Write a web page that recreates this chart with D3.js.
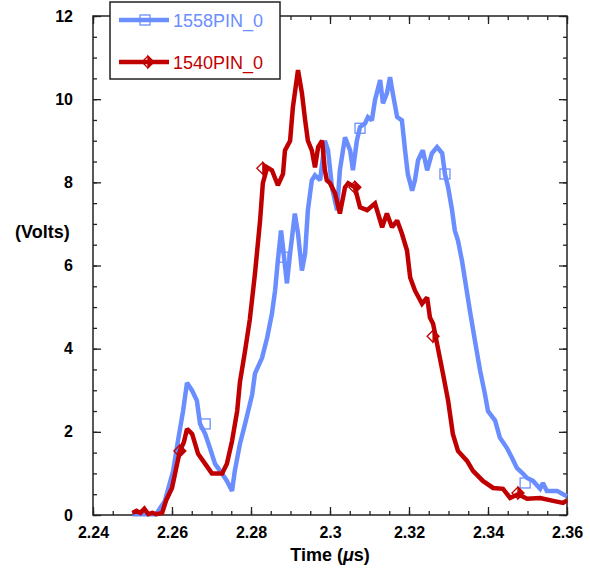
<!DOCTYPE html>
<html>
<head lang="en">
    <meta charset="UTF-8">
    <script type="text/javascript" src="https://d3js.org/d3.v7.min.js"></script>
    <style>
        body { margin: 0; background: #fff; }
        text { font-family: "Liberation Sans", Arial, Helvetica, sans-serif; }
        .tick text { font-size: 16px; font-weight: bold; fill: #000; }
    </style>
</head>
<body>
    <svg id="chart" width="590" height="573"></svg>
    <script>
        // 1558PIN_0 (blue)
        var blueTime = [2.2500, 2.2560, 2.2582, 2.2603, 2.2615, 2.2628, 2.2638, 2.2651, 2.2663, 2.2671,
            2.2684, 2.2696, 2.2709, 2.2727, 2.2739, 2.2752, 2.2759, 2.2772, 2.2785, 2.2803,
            2.2810, 2.2828, 2.2841, 2.2853, 2.2861, 2.2868, 2.2876, 2.2881, 2.2891, 2.2899,
            2.2911, 2.2919, 2.2929, 2.2937, 2.2944, 2.2954, 2.2962, 2.2975, 2.2987, 2.2995,
            2.3005, 2.3018, 2.3025, 2.3038, 2.3051, 2.3058, 2.3068, 2.3076, 2.3089, 2.3096,
            2.3106, 2.3114, 2.3127, 2.3134, 2.3144, 2.3152, 2.3159, 2.3170, 2.3182, 2.3190,
            2.3197, 2.3208, 2.3215, 2.3223, 2.3235, 2.3246, 2.3258, 2.3271, 2.3284, 2.3291,
            2.3299, 2.3309, 2.3316, 2.3324, 2.3334, 2.3342, 2.3354, 2.3367, 2.3380, 2.3392,
            2.3400, 2.3418, 2.3430, 2.3448, 2.3461, 2.3473, 2.3489, 2.3499, 2.3514, 2.3532,
            2.3539, 2.3549, 2.3575, 2.3590, 2.3600];
        var blueVolts = [0.02, 0.02, 0.34, 1.06, 1.78, 2.50, 3.18, 2.99, 2.75, 2.19,
            1.95, 1.61, 1.23, 0.99, 0.82, 0.58, 1.06, 1.71, 2.19, 2.90,
            3.40, 3.78, 4.27, 4.84, 5.40, 6.12, 6.84, 6.43, 5.57, 6.29,
            7.25, 6.77, 5.88, 6.29, 7.33, 8.05, 8.17, 8.05, 9.00, 8.77,
            7.88, 7.33, 8.29, 9.08, 8.77, 8.29, 9.00, 9.33, 9.42, 9.57,
            9.49, 9.98, 10.46, 9.90, 10.14, 10.53, 10.14, 9.57, 9.49, 8.77,
            8.20, 7.80, 8.05, 8.53, 8.77, 8.29, 8.70, 8.85, 8.70, 8.20,
            7.88, 7.33, 6.84, 6.60, 6.12, 5.64, 4.92, 4.19, 3.47, 2.92,
            2.50, 2.27, 1.86, 1.61, 1.37, 1.13, 0.99, 0.89, 0.82, 0.63,
            0.77, 0.58, 0.58, 0.50, 0.45];
        var blueMarkTime = [2.2684, 2.2881, 2.3076, 2.3291, 2.3494];
        var blueMarkVolts = [2.19, 6.20, 9.30, 8.20, 0.77];

        // 1540PIN_0 (red)
        var redTime = [2.2500, 2.2510, 2.2520, 2.2530, 2.2540, 2.2550, 2.2560, 2.2575, 2.2585, 2.2600,
            2.2613, 2.2620, 2.2630, 2.2638, 2.2651, 2.2666, 2.2684, 2.2701, 2.2727, 2.2739,
            2.2752, 2.2765, 2.2772, 2.2780, 2.2785, 2.2797, 2.2810, 2.2823, 2.2830, 2.2841,
            2.2853, 2.2868, 2.2881, 2.2886, 2.2899, 2.2906, 2.2919, 2.2929, 2.2937, 2.2944,
            2.2954, 2.2962, 2.2970, 2.2980, 2.2987, 2.2992, 2.3000, 2.3013, 2.3025, 2.3038,
            2.3046, 2.3063, 2.3076, 2.3094, 2.3114, 2.3132, 2.3144, 2.3157, 2.3170, 2.3182,
            2.3195, 2.3203, 2.3215, 2.3233, 2.3246, 2.3253, 2.3261, 2.3266, 2.3286, 2.3299,
            2.3311, 2.3324, 2.3347, 2.3362, 2.3387, 2.3413, 2.3438, 2.3456, 2.3476, 2.3499,
            2.3532, 2.3565, 2.3590, 2.3600];
        var redVolts = [0.05, 0.10, 0.05, 0.15, 0.02, 0.05, 0.02, 0.05, 0.35, 0.65,
            1.23, 1.54, 1.75, 2.07, 1.95, 1.47, 1.23, 1.00, 1.00, 1.23,
            1.78, 2.50, 3.20, 3.66, 3.95, 4.70, 5.80, 7.08, 7.98, 8.36,
            8.29, 7.93, 8.20, 8.77, 9.00, 9.80, 10.70, 10.14, 9.50, 9.00,
            8.77, 8.36, 8.85, 9.00, 8.29, 8.05, 7.98, 7.73, 7.25, 7.88,
            7.98, 7.88, 7.40, 7.33, 7.49, 6.92, 7.25, 6.92, 7.08, 6.77,
            6.36, 5.71, 5.40, 5.08, 5.23, 4.75, 4.60, 4.36, 3.40, 2.75,
            1.95, 1.54, 1.30, 1.06, 0.82, 0.65, 0.63, 0.41, 0.50, 0.39,
            0.41, 0.34, 0.29, 0.35];
        var redMarkTime = [2.2620, 2.2830, 2.3063, 2.3261, 2.3476];
        var redMarkVolts = [1.54, 8.34, 7.88, 4.30, 0.53];

        var xMajor = [2.24, 2.26, 2.28, 2.30, 2.32, 2.34, 2.36];
        var xTickLabels = ["2.24", "2.26", "2.28", "2.3", "2.32", "2.34", "2.36"];
        var yMajor = [0, 2, 4, 6, 8, 10, 12];

        var blueColor = "#6b8eff";
        var redColor = "#c00000";

        var plotLeft = 93, plotRight = 567, plotTop = 16, plotBottom = 515;

        var xScale = d3.scaleLinear().domain([2.24, 2.36]).range([plotLeft, plotRight]);
        var yScale = d3.scaleLinear().domain([0, 12]).range([plotBottom, plotTop]);

        var xMinor = d3.range(0, 25).map(function(i){ return 2.24 + i * 0.005; });
        var yMinor = d3.range(0, 25).map(function(i){ return i * 0.5; });

        var svg = d3.select("#chart");

        // minor ticks on all four sides
        function minorAxis(axis, ticks) {
            return axis.tickValues(ticks).tickSize(-4).tickFormat("");
        }
        svg.append("g").attr("transform", "translate(0," + plotBottom + ")")
            .call(minorAxis(d3.axisBottom(xScale), xMinor));
        svg.append("g").attr("transform", "translate(0," + plotTop + ")")
            .call(minorAxis(d3.axisTop(xScale), xMinor));
        svg.append("g").attr("transform", "translate(" + plotLeft + ",0)")
            .call(minorAxis(d3.axisLeft(yScale), yMinor));
        svg.append("g").attr("transform", "translate(" + plotRight + ",0)")
            .call(minorAxis(d3.axisRight(yScale), yMinor));

        // major ticks + labels
        svg.append("g").attr("transform", "translate(0," + plotBottom + ")")
            .call(d3.axisBottom(xScale).tickValues(xMajor).tickSize(-8).tickPadding(12)
                .tickFormat(function(d, i){ return xTickLabels[i]; }));
        svg.append("g").attr("transform", "translate(0," + plotTop + ")")
            .call(d3.axisTop(xScale).tickValues(xMajor).tickSize(-8).tickFormat(""));
        svg.append("g").attr("transform", "translate(" + plotLeft + ",0)")
            .call(d3.axisLeft(yScale).tickValues(yMajor).tickSize(-8).tickPadding(20)
                .tickFormat(d3.format("d")));
        svg.append("g").attr("transform", "translate(" + plotRight + ",0)")
            .call(d3.axisRight(yScale).tickValues(yMajor).tickSize(-8).tickFormat(""));

        svg.selectAll(".domain").remove();
        svg.selectAll(".tick line").attr("stroke", "#222").attr("stroke-width", 1.3);

        // frame
        svg.append("rect")
            .attr("x", plotLeft).attr("y", plotTop)
            .attr("width", plotRight - plotLeft).attr("height", plotBottom - plotTop)
            .attr("fill", "none").attr("stroke", "#222").attr("stroke-width", 1.5);

        // lines
        var line = d3.line()
            .x(function(d){ return xScale(d[0]); })
            .y(function(d){ return yScale(d[1]); });

        var blueData = blueTime.map(function(t, i){ return [t, blueVolts[i]]; });
        var redData = redTime.map(function(t, i){ return [t, redVolts[i]]; });

        svg.append("path").datum(blueData)
            .attr("d", line)
            .attr("fill", "none").attr("stroke", blueColor).attr("stroke-width", 4.5)
            .attr("stroke-linejoin", "miter").attr("stroke-miterlimit", 2);
        svg.append("path").datum(redData)
            .attr("d", line)
            .attr("fill", "none").attr("stroke", redColor).attr("stroke-width", 4.5)
            .attr("stroke-linejoin", "miter").attr("stroke-miterlimit", 2);

        // markers
        function drawSquare(g, x, y) {
            g.append("rect")
                .attr("x", x - 5).attr("y", y - 5).attr("width", 10).attr("height", 10)
                .attr("fill", "none").attr("stroke", blueColor).attr("stroke-width", 1.3);
        }
        function drawDiamond(g, x, y) {
            g.append("path")
                .attr("d", "M" + x + "," + (y - 6) + "L" + (x - 6) + "," + y + "L" + x + "," + (y + 6))
                .attr("fill", "none").attr("stroke", redColor).attr("stroke-width", 1.3);
            g.append("path")
                .attr("d", "M" + x + "," + (y - 6) + "L" + (x + 6) + "," + y + "L" + x + "," + (y + 6) + "Z")
                .attr("fill", redColor).attr("stroke", redColor).attr("stroke-width", 1.3);
        }
        var marks = svg.append("g");
        blueMarkTime.forEach(function(t, i){ drawSquare(marks, xScale(t), yScale(blueMarkVolts[i])); });
        redMarkTime.forEach(function(t, i){ drawDiamond(marks, xScale(t), yScale(redMarkVolts[i])); });

        // axis titles
        svg.append("text")
            .attr("x", 330).attr("y", 561)
            .attr("text-anchor", "middle")
            .attr("font-size", "18px").attr("font-weight", "bold")
            .html('Time (<tspan font-style="italic">μ</tspan>s)');
        svg.append("text")
            .attr("x", 15).attr("y", 238)
            .attr("font-size", "18px").attr("font-weight", "bold")
            .text("(Volts)");

        // legend
        var legend = svg.append("g");
        legend.append("rect")
            .attr("x", 110).attr("y", 2).attr("width", 170).attr("height", 77)
            .attr("fill", "#fff").attr("stroke", "#222").attr("stroke-width", 1.5);
        legend.append("line").attr("x1", 119).attr("x2", 169).attr("y1", 20).attr("y2", 20)
            .attr("stroke", blueColor).attr("stroke-width", 4.5);
        legend.append("rect").attr("x", 140).attr("y", 15).attr("width", 10).attr("height", 10)
            .attr("fill", "none").attr("stroke", blueColor).attr("stroke-width", 1.3);
        legend.append("text").attr("x", 173).attr("y", 27)
            .attr("font-size", "18px").attr("fill", blueColor).text("1558PIN_0");
        legend.append("line").attr("x1", 119).attr("x2", 169).attr("y1", 62).attr("y2", 62)
            .attr("stroke", redColor).attr("stroke-width", 4.5);
        drawDiamond(legend, 148, 62);
        legend.append("text").attr("x", 173).attr("y", 69)
            .attr("font-size", "18px").attr("fill", redColor).text("1540PIN_0");
    </script>
</body>
</html>
